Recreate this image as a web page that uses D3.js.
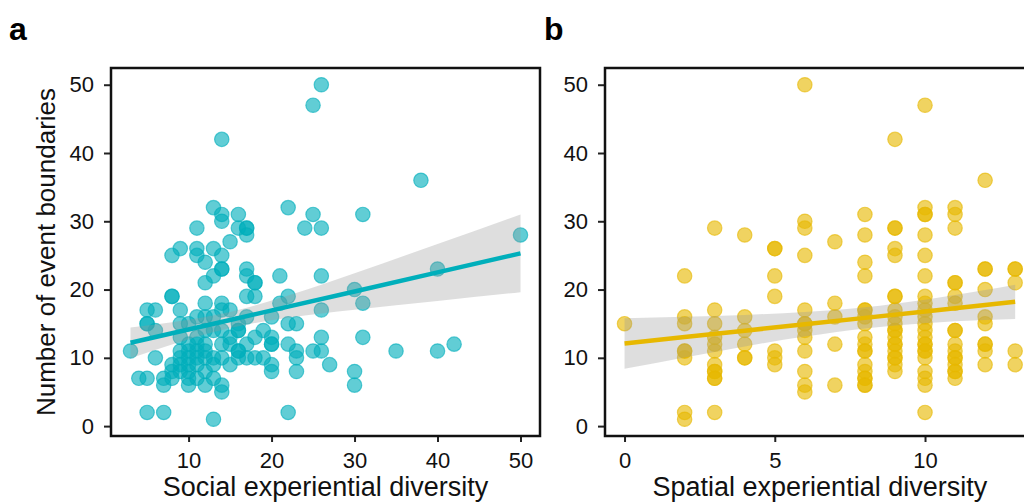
<!DOCTYPE html>
<html>
<head>
<meta charset="utf-8">
<script src="https://cdn.jsdelivr.net/npm/d3@7"></script>
<style>
  html, body { margin: 0; padding: 0; background: #fff; }
  svg { display: block; font-family: "Liberation Sans", Arial, Helvetica, sans-serif; }
</style>
</head>
<body>
<div id="chart"></div>
<script>
// panel a: [social experiential diversity, number of event boundaries]
const socialPoints = [
    [26, 50], [25, 47], [14, 42], [38, 36], [13, 32], [22, 32], [14, 31], [16, 31], [25, 31], [31, 31],
    [14, 30], [11, 29], [16, 29], [17, 29], [17, 29], [17, 28], [24, 29], [26, 29], [50, 28], [15, 27],
    [9, 26], [11, 26], [13, 26], [8, 25], [11, 25], [14, 25], [12, 24], [14, 23], [14, 23], [17, 23],
    [40, 23], [13, 22], [17, 22], [21, 22], [26, 22], [12, 21], [18, 21], [18, 21], [30, 20], [8, 19],
    [8, 19], [17, 19], [18, 19], [22, 19], [12, 18], [14, 18], [21, 18], [31, 18], [5, 17], [6, 17],
    [9, 17], [14, 17], [15, 17], [26, 17], [5, 15], [5, 15], [6, 14], [9, 15], [10, 15], [11, 16],
    [12, 16], [17, 16], [20, 16], [22, 15], [23, 15], [16, 15], [13, 16], [13, 14], [14, 14], [16, 14],
    [16, 14], [19, 14], [12, 14], [9, 13], [11, 13], [15, 13], [18, 13], [20, 13], [26, 13], [31, 13],
    [11, 12], [12, 12], [14, 12], [15, 12], [17, 12], [20, 12], [20, 12], [22, 12], [42, 12], [10, 12],
    [3, 11], [9, 11], [10, 11], [11, 11], [12, 11], [16, 11], [16, 11], [23, 11], [25, 11], [26, 11],
    [35, 11], [40, 11], [6, 10], [9, 10], [10, 10], [11, 10], [12, 10], [13, 10], [14, 10], [16, 10],
    [17, 10], [18, 10], [19, 10], [23, 10], [8, 9], [9, 9], [10, 9], [11, 9], [13, 9], [15, 9],
    [20, 9], [27, 9], [8, 8], [9, 8], [10, 8], [12, 8], [20, 8], [23, 8], [30, 8], [4, 7],
    [5, 7], [7, 7], [8, 7], [10, 7], [11, 7], [13, 7], [7, 6], [10, 6], [12, 6], [14, 6],
    [30, 6], [14, 5], [5, 2], [7, 2], [22, 2], [13, 1]
];

// panel b: spatial diversity columns and the boundary counts in each
const spatialColumns = [0, 2, 3, 4, 5, 6, 7, 8, 9, 10, 11, 12, 13];
const spatialValues = [
    [15],
    [22, 16, 15, 11, 11, 10, 2, 1],
    [29, 17, 15, 13, 12, 11, 9, 8, 8, 7, 7, 2],
    [28, 16, 14, 12, 10, 10],
    [26, 26, 22, 19, 11, 10, 9],
    [50, 30, 29, 25, 17, 15, 15, 14, 13, 11, 8, 6, 5],
    [27, 18, 16, 12, 6],
    [31, 28, 24, 22, 17, 17, 16, 15, 13, 12, 11, 11, 9, 8, 7, 7, 6, 6],
    [42, 29, 29, 26, 25, 19, 19, 17, 16, 15, 14, 14, 13, 12, 12, 11, 10, 10, 9, 8],
    [47, 32, 31, 31, 28, 25, 22, 19, 18, 17, 16, 15, 14, 13, 12, 12, 11, 11, 10, 8, 7, 6, 2],
    [32, 31, 29, 21, 21, 19, 18, 14, 14, 12, 11, 10, 10, 9, 8, 8, 7],
    [36, 23, 23, 20, 16, 15, 12, 12, 11, 9],
    [23, 23, 21, 11, 9]
];

// fitted lines with 95% band
const socialFitX = [3, 8, 15, 22, 30, 40, 50];
const socialFit = [12.2, 13.59, 15.54, 17.5, 19.72, 22.51, 25.3];
const socialLow = [9.95, 11.96, 14.36, 15.87, 17.05, 18.34, 19.6];
const socialHigh = [14.45, 15.22, 16.72, 19.13, 22.39, 26.68, 31.0];

const spatialFitX = [0, 2, 4, 6, 8, 10, 12, 13];
const spatialFit = [12.1, 13.04, 13.98, 14.91, 15.85, 16.79, 17.73, 18.2];
const spatialLow = [8.4, 10.06, 11.67, 13.12, 14.31, 15.08, 15.54, 15.7];
const spatialHigh = [15.8, 16.02, 16.29, 16.7, 17.39, 18.5, 19.92, 20.7];

const yTicks = [0, 10, 20, 30, 40, 50];
const socialTicks = [10, 20, 30, 40, 50];
const spatialTicks = [0, 5, 10];

const colors = {
    social: "#00AFBB",
    spatial: "#E7B800",
    band: "#999999"
};

const svg = d3.select("#chart")
    .append("svg")
    .attr("width", 1024)
    .attr("height", 503);

svg.append("rect").attr("width", 1024).attr("height", 503).attr("fill", "#fff");

const plotTop = 68, plotBottom = 436;

function drawPanel(opt) {
    const x = d3.scaleLinear().domain(opt.xDomain).range([opt.left, opt.right]);
    const y = d3.scaleLinear().domain([-1.45, 52.45]).range([plotBottom, plotTop]);
    const g = svg.append("g");

    g.selectAll("circle.pt")
        .data(opt.points)
        .enter()
        .append("circle")
        .attr("class", "pt")
        .attr("cx", d => x(d[0]))
        .attr("cy", d => y(d[1]))
        .attr("r", 7.2)
        .attr("fill", opt.color)
        .attr("fill-opacity", 0.62)
        .attr("stroke", opt.color)
        .attr("stroke-opacity", 0.62)
        .attr("stroke-width", 1.2);

    const fit = opt.fitX.map((v, i) => ({ x: v, y: opt.fit[i], lo: opt.low[i], hi: opt.high[i] }));

    g.append("path")
        .datum(fit)
        .attr("d", d3.area().x(d => x(d.x)).y0(d => y(d.lo)).y1(d => y(d.hi)).curve(d3.curveMonotoneX))
        .attr("fill", colors.band)
        .attr("fill-opacity", 0.32);

    g.append("path")
        .datum(fit)
        .attr("d", d3.line().x(d => x(d.x)).y(d => y(d.y)))
        .attr("fill", "none")
        .attr("stroke", opt.color)
        .attr("stroke-width", 4.5);

    const xAxis = g.append("g")
        .attr("transform", `translate(0,${plotBottom})`)
        .call(d3.axisBottom(x).tickValues(opt.xTicks).tickSize(6).tickPadding(10).tickFormat(d3.format("d")));
    const yAxis = g.append("g")
        .attr("transform", `translate(${opt.left},0)`)
        .call(d3.axisLeft(y).tickValues(yTicks).tickSize(7).tickPadding(10).tickFormat(d3.format("d")));

    [xAxis, yAxis].forEach(a => {
        a.select(".domain").remove();
        a.selectAll(".tick line").attr("stroke", "#222").attr("stroke-width", 2);
        a.selectAll(".tick text")
            .attr("fill", "#111")
            .style("font-size", "22px")
            .style("font-family", "'Liberation Sans', Arial, sans-serif");
    });

    g.append("rect")
        .attr("x", opt.left)
        .attr("y", plotTop)
        .attr("width", opt.right - opt.left)
        .attr("height", plotBottom - plotTop)
        .attr("fill", "none")
        .attr("stroke", "#111")
        .attr("stroke-width", 2.5);

    g.append("text")
        .attr("x", (opt.left + opt.right) / 2)
        .attr("y", 496)
        .attr("text-anchor", "middle")
        .style("font-size", "27px")
        .attr("fill", "#111")
        .text(opt.xTitle);

    g.append("text")
        .attr("x", opt.tagX)
        .attr("y", 40)
        .style("font-size", "32px")
        .style("font-weight", "bold")
        .attr("fill", "#000")
        .text(opt.tag);
}

drawPanel({
    points: socialPoints,
    xDomain: [0.65, 52.35],
    left: 111, right: 540,
    xTicks: socialTicks,
    fitX: socialFitX, fit: socialFit, low: socialLow, high: socialHigh,
    color: colors.social,
    xTitle: "Social experiential diversity",
    tag: "a", tagX: 9
});

const spatialPoints = [];
spatialColumns.forEach((c, i) => spatialValues[i].forEach(v => spatialPoints.push([c, v])));

drawPanel({
    points: spatialPoints,
    xDomain: [-0.65, 13.65],
    left: 605, right: 1034.7,
    xTicks: spatialTicks,
    fitX: spatialFitX, fit: spatialFit, low: spatialLow, high: spatialHigh,
    color: colors.spatial,
    xTitle: "Spatial experiential diversity",
    tag: "b", tagX: 544
});

svg.append("text")
    .attr("transform", `translate(55,${(plotTop + plotBottom) / 2}) rotate(-90)`)
    .attr("text-anchor", "middle")
    .style("font-size", "26px")
    .attr("fill", "#111")
    .text("Number of event boundaries");
</script>
</body>
</html>
